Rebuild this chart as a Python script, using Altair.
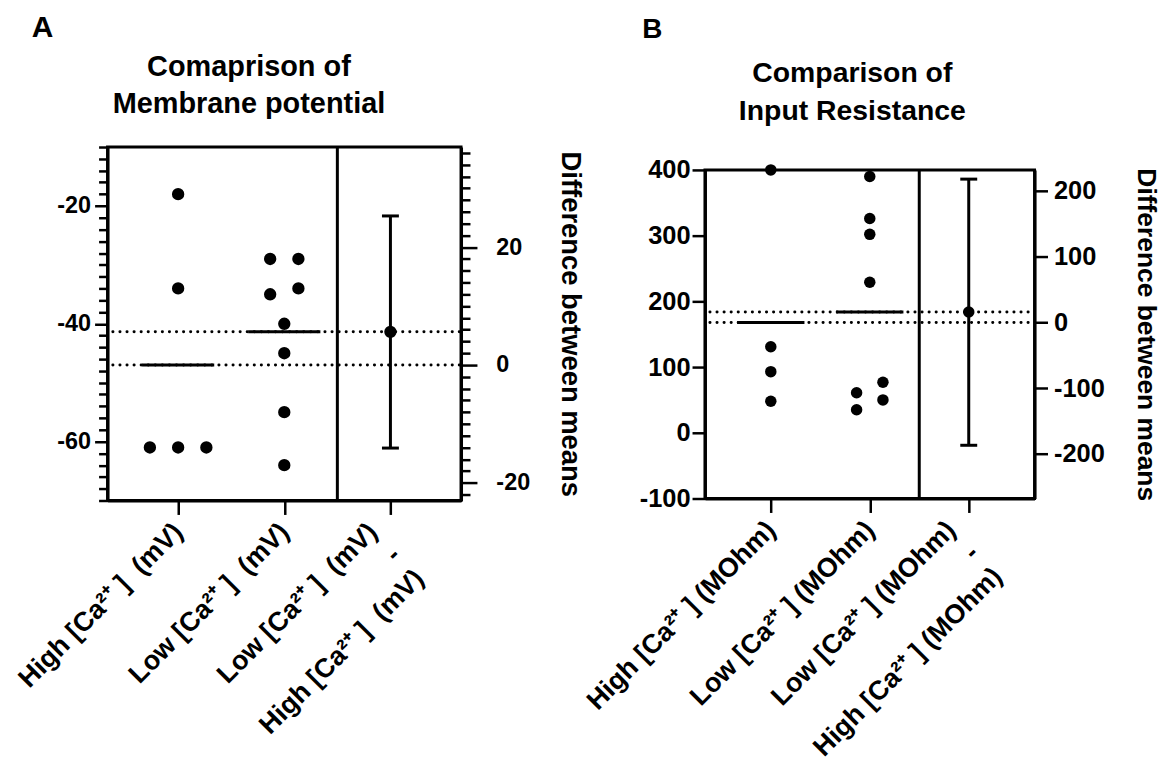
import json
import numpy as np
import pandas as pd
import altair as alt

FONT = "Liberation Sans"

# ---- Membrane potential (mV) ----
mp_high = [-18, -34, -61, -61, -61]
mp_low = [-29, -29, -34, -35, -40, -45, -55, -64]
mp_high_cols = [0, 0, -2, 0, 2]          # column slot of each point (ties spread sideways)
mp_low_cols = [-1, 1, 1, -1, 0, 0, 0, 0]
mp_ci = [-14.1, 25.3]                     # 95% CI of the difference between means
mp_cats = ["High [Ca²⁺ ]\u00a0 (mV)", "Low [Ca²⁺ ]\u00a0 (mV)"]
mp_title = ["Comaprison of", "Membrane potential"]

# ---- Input resistance (MOhm) ----
ir_high = [400, 131, 93, 48]
ir_low = [390, 326, 302, 229, 77, 61, 50, 35]
ir_high_cols = [0, 0, 0, 0]
ir_low_cols = [0, 0, 0, 0, 1, -1, 1, -1]
ir_ci = [-187, 218]
ir_cats = ["High [Ca²⁺ ] (MOhm)", "Low [Ca²⁺ ] (MOhm)"]
ir_title = ["Comparison of", "Input Resistance"]

X_DOMAIN = [-0.665, 2.665]
COL_STEP = 0.133
MEAN_HALF = 0.34


def num_label(test):
    lab = "(datum.value < 0 ? '-' + abs(datum.value) : '' + datum.value)"
    return f"({test}) ? {lab} : ''"


def y_axis(orient, vals, major, size, major_len, minor_len, pad,
           title=None, title_size=None, title_pad=None):
    kw = dict(orient=orient, values=vals, labelFontSize=size, labelPadding=pad,
              labelFlush=False, title=title)
    if minor_len:
        test = f"datum.value % {major} === 0"
        kw["labelExpr"] = num_label(test)
        kw["tickSize"] = {"condition": {"test": test, "value": major_len},
                          "value": minor_len}
    else:
        kw["labelExpr"] = num_label("true")
        kw["tickSize"] = major_len
    if title:
        kw.update(titleFontSize=title_size, titlePadding=title_pad, titleAngle=90)
    return alt.Axis(**kw)


def heading(letter, title, letter_font, title_font, letter_pos, title_pos):
    letter_mark = alt.Chart(pd.DataFrame({"t": [letter]})).mark_text(
        font=FONT, fontWeight="bold", fontSize=letter_font, align="left",
        baseline="alphabetic", color="black"
    ).encode(x=alt.value(letter_pos[0]), y=alt.value(letter_pos[1]), text="t:N")
    lines = [
        alt.Chart(pd.DataFrame({"t": [line]})).mark_text(
            font=FONT, fontWeight="bold", fontSize=title_font, align="center",
            baseline="alphabetic", color="black"
        ).encode(x=alt.value(title_pos[0]), y=alt.value(ty), text="t:N")
        for line, ty in zip(title, title_pos[1])
    ]
    return [letter_mark] + lines


def panel(high, low, high_cols, low_cols, ci, cats, y_dom,
          left_vals, left_major, left_minor, right_vals, right_major, right_minor,
          tick_font, cat_font, axis_title_font, dot_size, right_title_pad,
          left_pad, right_pad, extra=()):
    m_high = float(np.mean(high))
    m_low = float(np.mean(low))
    r_dom = [y_dom[0] - m_high, y_dom[1] - m_high]

    pts = pd.DataFrame({
        "x": [c * COL_STEP for c in high_cols] + [1 + c * COL_STEP for c in low_cols],
        "v": high + low,
    })
    means = pd.DataFrame({"x": [-MEAN_HALF, 1 - MEAN_HALF],
                          "x2": [MEAN_HALF, 1 + MEAN_HALF],
                          "v": [m_high, m_low]})
    refs = pd.DataFrame({"x": [X_DOMAIN[0] + 0.05] * 2, "x2": [X_DOMAIN[1]] * 2,
                         "v": [m_high, m_low]})
    divider = pd.DataFrame({"x": [1.5]})
    est = pd.DataFrame({"x": [2.0], "d": [m_low - m_high], "lo": [ci[0]], "hi": [ci[1]]})
    caps = pd.DataFrame({"x": [2.0, 2.0], "d": ci})

    names = cats + [f"{cats[1]}|-|{cats[0]}"]
    x_axis = alt.Axis(
        values=[0, 1, 2],
        labelExpr="split(" + json.dumps(names, ensure_ascii=False) + "[datum.value], '|')",
        labelAngle=-45, labelAlign="right", labelBaseline="top",
        labelFontSize=cat_font, labelLineHeight=33, labelPadding=4, labelLimit=0,
        labelOffset={"condition": {"test": "datum.value === 2", "value": -27}, "value": -9},
        tickSize=14, labelFlush=False, title=None,
    )
    xs = alt.Scale(domain=X_DOMAIN, nice=False, zero=False)

    def X(f="x"):
        return alt.X(f"{f}:Q", scale=xs, axis=x_axis, title=None)

    left_axis = y_axis("left", left_vals, left_major, tick_font, 13, left_minor, left_pad)
    right_axis = y_axis("right", right_vals, right_major, tick_font, 16 if right_minor else 13,
                        right_minor, right_pad, "Difference between means",
                        axis_title_font, right_title_pad)
    ls = alt.Scale(domain=y_dom, nice=False, zero=False)
    rs = alt.Scale(domain=r_dom, nice=False, zero=False)

    def YL(f="v"):
        return alt.Y(f"{f}:Q", scale=ls, axis=left_axis, title=None)

    def YR(f="d"):
        return alt.Y(f"{f}:Q", scale=rs, axis=right_axis)

    ref_lines = alt.Chart(refs).mark_rule(
        color="black", strokeWidth=3, strokeDash=[0.1, 7], strokeCap="round"
    ).encode(x=X(), x2="x2", y=YL())
    split_line = alt.Chart(divider).mark_rule(color="black", strokeWidth=3).encode(x=X())
    mean_lines = alt.Chart(means).mark_rule(color="black", strokeWidth=3).encode(
        x=X(), x2="x2", y=YL())
    dots = alt.Chart(pts).mark_circle(size=dot_size, color="black", opacity=1).encode(
        x=X(), y=YL())

    left = alt.layer(ref_lines, split_line, mean_lines, dots, *extra)

    ci_bar = alt.Chart(est).mark_rule(color="black", strokeWidth=3).encode(
        x=X(), y=YR("lo"), y2="hi")
    cap_marks = alt.Chart(caps).mark_tick(
        orient="horizontal", size=17, thickness=3, color="black", opacity=1
    ).encode(x=X(), y=YR())
    est_dot = alt.Chart(est).mark_circle(size=dot_size, color="black", opacity=1).encode(
        x=X(), y=YR())
    right = alt.layer(ci_bar, cap_marks, est_dot)

    return alt.layer(left, right).resolve_scale(y="independent")


# Panel A carries its heading inside its own view
head_a = heading("A", mp_title, 30, 29, (-76, -110), (142, [-71, -34]))
panel_a = panel(
    mp_high, mp_low, mp_high_cols, mp_low_cols, mp_ci, mp_cats,
    [-70, -10], list(range(-70, -9, 2)), 20, 9, list(range(-22, 37, 2)), 20, 9,
    tick_font=23.5, cat_font=27, axis_title_font=27.5, dot_size=154,
    right_title_pad=26, left_pad=4, right_pad=19, extra=head_a,
).properties(width=355, height=355)

# Panel B sits a little lower: its heading lives in a thin strip above the plot
head_b = alt.layer(
    *heading("B", ir_title, 28, 28.5, (-63, -109), (148, [-65, -27]))
).properties(width=331, height=7, view=alt.ViewBackground(stroke="transparent"))
panel_b = panel(
    ir_high, ir_low, ir_high_cols, ir_low_cols, ir_ci, ir_cats,
    [-100, 400], list(range(-100, 401, 100)), 100, 0, list(range(-200, 201, 100)), 100, 0,
    tick_font=25.5, cat_font=27, axis_title_font=26.5, dot_size=133,
    right_title_pad=27, left_pad=2, right_pad=6,
).properties(width=331, height=330)

chart = alt.hconcat(
    panel_a, alt.vconcat(head_b, panel_b, spacing=0), spacing=-6
).configure_view(
    stroke="black", strokeWidth=3
).configure_axis(
    domainColor="black", domainWidth=3, tickColor="black", tickWidth=2.5,
    labelColor="black", labelFont=FONT, labelFontWeight="bold",
    titleFont=FONT, titleFontWeight="bold", titleColor="black",
    grid=False, labelOverlap=False,
).properties(
    padding={"left": 11, "top": 10, "right": 5, "bottom": 5}, background="white"
)

chart.save("out.html", embed_options={"renderer": "svg", "actions": False})
